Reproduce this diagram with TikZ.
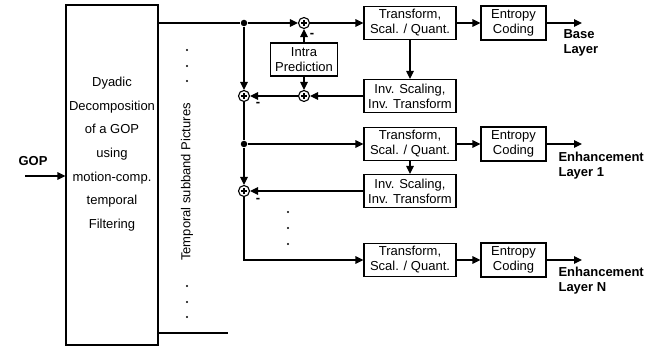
\documentclass[tikz,border=0pt]{standalone}
\usepackage{fontspec}
\setmainfont{Liberation Sans}
\usetikzlibrary{arrows.meta}

\begin{document}
\begin{tikzpicture}[x=1pt,y=-1pt,line width=1.1pt,>={Triangle[length=8pt,width=7.5pt]},
	block/.style={draw,align=center,inner sep=0pt,minimum width=92pt,minimum height=33pt,font=\fontsize{13}{15}\selectfont},
	coder/.style={block,minimum width=65pt,minimum height=34pt},
	adder/.style={circle,draw,inner sep=0pt,minimum size=11pt,
		path picture={\draw[line width=1.1pt] ([xshift=-3.2pt]path picture bounding box.center) -- ([xshift=3.2pt]path picture bounding box.center);
			\draw[line width=1.1pt] ([yshift=-3.2pt]path picture bounding box.center) -- ([yshift=3.2pt]path picture bounding box.center);}},
	junct/.style={circle,fill,inner sep=0pt,minimum size=6.5pt},
	minus/.style={inner sep=0pt,font=\fontsize{13}{15}\selectfont\bfseries},
	outlbl/.style={anchor=west,align=left,inner sep=0pt,font=\fontsize{13}{15}\selectfont\bfseries}]
	\useasboundingbox (0,0) rectangle (653,347);
	% decomposition of the GOP
	\node[draw,minimum width=92pt,minimum height=340pt,inner sep=0pt] (dec) at (112,175) {};
	\node[align=center,font=\fontsize{13}{23.67}\selectfont] (dectxt) at (112,154) {Dyadic\\Decomposition\\of a GOP\\using\\motion-comp.\\temporal\\Filtering};
	\node[font=\fontsize{13}{15}\selectfont\bfseries] (gop) at (33,161) {GOP};
	\coordinate (gopin) at (25,176);
	\draw[->] (gopin) -- (dec.west |- gopin);
	\node[rotate=90,font=\fontsize{13}{15}\selectfont] (sub) at (187,182) {Temporal subband Pictures};
	\foreach \y in {50,66,81,286,302,317}
		\fill (187,\y) circle (1.2pt);
	\coordinate (tail) at (228,333);
	\draw (dec.east |- tail) -- (tail);
	% base layer
	\node[junct] (d1) at (244,23) {};
	\node[adder] (a1) at (304,23) {};
	\node[block] (t1) at (410,23) {Transform,\\Scal. / Quant.};
	\node[coder] (e1) at (513.5,23) {Entropy\\Coding};
	\coordinate (o1) at (582,23);
	\node[block] (i1) at (410,96) {Inv. Scaling,\\Inv. Transform};
	\node[adder] (a2) at (304,96) {};
	\node[adder] (a3) at (244,96) {};
	\node[block,minimum width=67pt] (intra) at (304,59.5) {Intra\\Prediction};
	\node[outlbl] (l1) at (563,43) {Base\\Layer};
	\draw (dec.east |- d1) -- (d1);
	\draw[->] (d1) -- (a1);
	\draw[->] (a1) -- (t1);
	\draw[->] (t1) -- (e1);
	\draw[->] (e1) -- (o1);
	\draw[->] (t1) -- (i1);
	\draw[->] (i1) -- (a2);
	\draw[->] (a2) -- (a3);
	\draw[->] (intra) -- (a1);
	\draw[->] (intra) -- (a2);
	\draw[->] (d1) -- (a3);
	\node[minus] at (312,35) {-};
	\node[minus] at (258,104) {-};
	% enhancement layer 1
	\node[junct] (d2) at (244,144) {};
	\node[block] (t2) at (410,144) {Transform,\\Scal. / Quant.};
	\node[coder] (e2) at (513.5,144) {Entropy\\Coding};
	\coordinate (o2) at (582,144);
	\node[block] (i2) at (410,191) {Inv. Scaling,\\Inv. Transform};
	\node[adder] (a4) at (244,191) {};
	\node[outlbl] (l2) at (558,166) {Enhancement\\Layer 1};
	\draw (a3) -- (d2);
	\draw[->] (d2) -- (t2);
	\draw[->] (t2) -- (e2);
	\draw[->] (e2) -- (o2);
	\draw[->] (t2) -- (i2);
	\draw[->] (i2) -- (a4);
	\draw[->] (d2) -- (a4);
	\node[minus] at (258,200) {-};
	\foreach \y in {212,228,244}
		\fill (288,\y) circle (1.2pt);
	% enhancement layer N
	\node[block] (t3) at (410,260) {Transform,\\Scal. / Quant.};
	\node[coder] (e3) at (513.5,260) {Entropy\\Coding};
	\coordinate (o3) at (582,260);
	\node[outlbl] (l3) at (558,281) {Enhancement\\Layer N};
	\draw[->] (a4) |- (t3);
	\draw[->] (t3) -- (e3);
	\draw[->] (e3) -- (o3);
\end{tikzpicture}
\end{document}
